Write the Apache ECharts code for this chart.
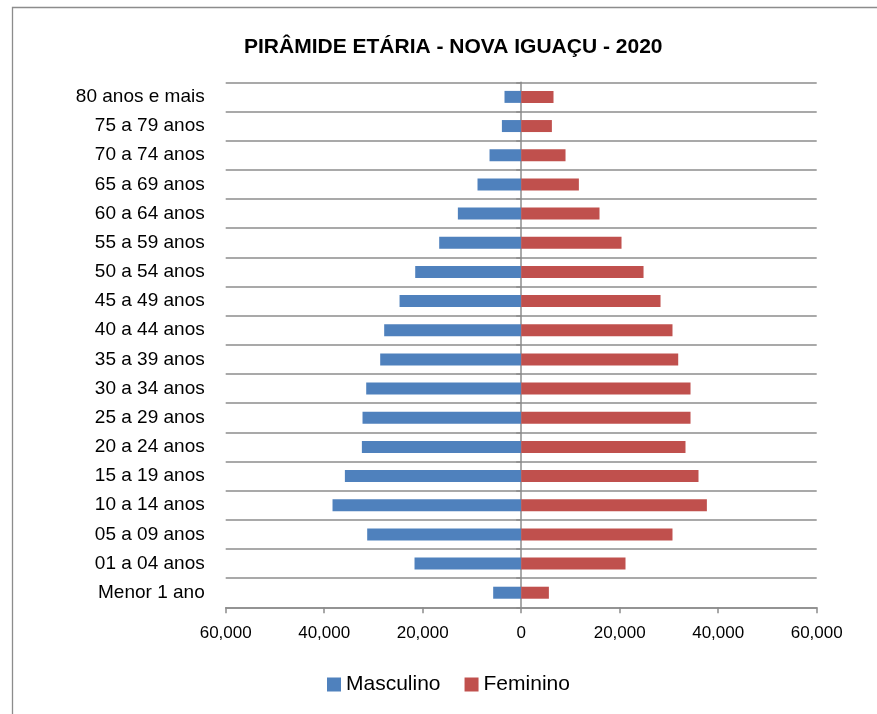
<!DOCTYPE html>
<html>
<head>
<meta charset="utf-8">
<script src="https://cdn.jsdelivr.net/npm/echarts@6/dist/echarts.min.js"></script>
<style>html,body{margin:0;padding:0;background:#fff}#c{width:877px;height:714px}</style>
</head>
<body>
<div id="c"></div>
<script>
var categories = ["Menor 1 ano","01 a 04 anos","05 a 09 anos","10 a 14 anos","15 a 19 anos","20 a 24 anos","25 a 29 anos","30 a 34 anos","35 a 39 anos","40 a 44 anos","45 a 49 anos","50 a 54 anos","55 a 59 anos","60 a 64 anos","65 a 69 anos","70 a 74 anos","75 a 79 anos","80 anos e mais"];
var masculino = [5690,21660,31270,38310,35800,32350,32220,31470,28630,27820,24700,21520,16650,12860,8870,6430,3920,3390];
var feminino = [5620,21180,30720,37700,36000,33360,34380,34380,31880,30720,28290,24840,20370,15900,11710,9000,6230,6560];
var xTicks = [-60000,-40000,-20000,0,20000,40000,60000];

var font = "'Liberation Sans', Arial, sans-serif";
var gridColor = '#8c8c8c';
function fmt(v){ v = Math.abs(v); return v.toString().replace(/\B(?=(\d{3})+(?!\d))/g, ','); }

var chart = echarts.init(document.getElementById('c'), null, {renderer:'canvas'});
chart.setOption({
  animation: false,
  backgroundColor: '#ffffff',
  textStyle: {fontFamily: font},
  graphic: [{
    type: 'rect', shape: {x: 12.5, y: 7.5, width: 900, height: 800},
    style: {fill: 'none', stroke: '#8c8c8c', lineWidth: 1.3}, silent: true, z: -10
  }],
  title: {
    text: 'PIRÂMIDE ETÁRIA - NOVA IGUAÇU - 2020',
    left: 239, top: 32,
    textStyle: {fontFamily: font, fontWeight: 'bold', fontSize: 21, color: '#000'}
  },
  legend: {
    left: 322, top: 669, itemGap: 24, itemWidth: 14, itemHeight: 14, icon: 'rect',
    textStyle: {fontFamily: font, fontSize: 21, color: '#000'},
    data: ['Masculino','Feminino']
  },
  grid: {left: 225.7, right: 60.3, top: 82.3, bottom: 106.7, containLabel: false},
  xAxis: {
    type: 'value', min: xTicks[0], max: xTicks[xTicks.length-1], interval: 20000,
    axisLine: {show: true, lineStyle: {color: gridColor, width: 1.5}},
    axisTick: {show: true, length: 6, lineStyle: {color: gridColor, width: 1.5}},
    axisLabel: {fontFamily: font, fontSize: 17, color: '#000', margin: 18, formatter: fmt},
    splitLine: {show: false}
  },
  yAxis: [{
    type: 'category', data: categories,
    axisLine: {show: false, onZero: false},
    axisTick: {show: false},
    axisLabel: {fontFamily: font, fontSize: 19, color: '#000', margin: 21},
    splitLine: {show: true, lineStyle: {color: gridColor, width: 1.5}}
  },{
    type: 'category', data: categories, position: 'left',
    axisLine: {show: true, onZero: true, lineStyle: {color: gridColor, width: 1.5}},
    axisTick: {show: true, length: 5, lineStyle: {color: gridColor, width: 1.5}},
    axisLabel: {show: false},
    splitLine: {show: false}
  }],
  series: [{
    name: 'Masculino', type: 'bar', stack: 'p', barWidth: 12,
    itemStyle: {color: '#4F81BD'},
    data: masculino.map(function(v){ return -v; })
  },{
    name: 'Feminino', type: 'bar', stack: 'p', barWidth: 12,
    itemStyle: {color: '#C0504D'},
    data: feminino
  }]
});
</script>
</body>
</html>
